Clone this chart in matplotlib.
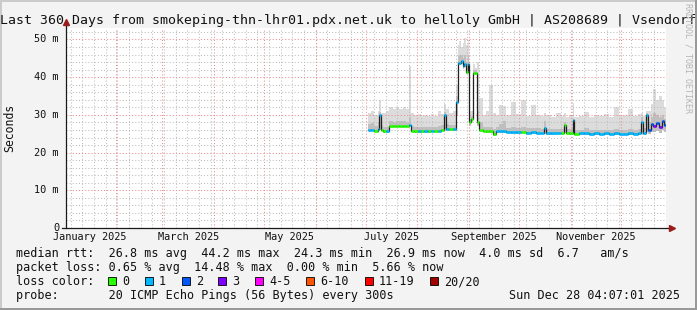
import matplotlib
matplotlib.use('Agg')
import matplotlib.pyplot as plt
from matplotlib.patches import Rectangle
from datetime import datetime, timedelta

# ---------------- data ----------------
title = "Last 360 Days from smokeping-thn-lhr01.pdx.net.uk to helloly GmbH | AS208689 | Vsendorf"
end_time = datetime(2025, 12, 28, 4, 7, 1)
span_days = 360

# sample day (days since start of window), median rtt (ms), lost pings, smoke max, smoke upper-mid, smoke min
days = [181, 183, 185, 187, 188, 189, 190, 192, 194, 196, 198, 200, 202, 204, 206, 207, 209, 211,
        213, 215, 217, 219, 221, 223, 225, 227, 228, 230, 232, 234, 235, 236, 237, 238, 239, 240,
        241, 242, 243, 244, 245.5, 246.5, 248, 250, 252, 254, 256, 258, 260, 262, 264, 267, 270,
        273, 276, 279, 282, 285, 287, 288, 291, 294, 297, 299, 300, 302, 304, 305, 308, 311, 314,
        317, 320, 323, 326, 329, 332, 335, 337, 340, 343, 345, 346, 348, 349, 351, 352, 354, 356,
        357.5, 359]
median = [26.0, 26.0, 25.8, 26.2, 30.0, 26.0, 25.6, 25.6, 27.1, 27.1, 27.1, 27.1, 27.1, 27.1, 27.3,
          25.8, 25.7, 25.7, 25.7, 25.7, 25.7, 25.8, 25.8, 25.8, 26.0, 30.0, 26.2, 26.2, 26.2, 33.5,
          43.8, 43.8, 44.2, 43.0, 43.5, 41.5, 43.5, 28.0, 29.0, 41.1, 41.1, 28.0, 26.0, 25.8, 25.6,
          25.6, 24.9, 25.6, 25.6, 25.6, 25.5, 25.4, 25.4, 25.5, 25.3, 25.4, 25.3, 25.3, 26.5, 25.2,
          25.2, 25.3, 25.3, 27.3, 25.3, 25.2, 28.6, 25.0, 25.1, 25.1, 25.0, 25.1, 25.0, 25.1, 25.0,
          25.1, 25.0, 25.0, 25.1, 25.0, 25.1, 28.2, 25.1, 30.0, 26.0, 27.5, 27.0, 27.8, 26.8, 28.4,
          27.2]
lost = [1, 1, 0, 1, 1, 0, 0, 1, 0, 0, 0, 0, 0, 0, 1, 0, 0, 1, 0, 1, 0, 1, 0, 1, 0, 1, 1, 0, 1, 1,
        1, 1, 1, 1, 1, 0, 1, 0, 0, 0, 0, 0, 0, 0, 0, 0, 0, 1, 1, 1, 1, 1, 1, 0, 1, 1, 1, 1, 1, 1,
        1, 1, 0, 0, 0, 0, 1, 0, 1, 1, 1, 1, 1, 1, 1, 1, 1, 1, 1, 1, 1, 1, 1, 1, 2, 2, 3, 2, 3, 2,
        2]
smoke_hi = [30.5, 31.0, 30.0, 31.0, 34.0, 30.5, 30.5, 31.0, 32.0, 31.5, 32.0, 31.5, 32.0, 31.5, 43.0,
            30.5, 30.0, 30.2, 29.8, 30.0, 29.8, 30.2, 29.8, 31.0, 30.2, 33.0, 31.5, 30.5, 31.0, 38.0,
            48.5, 49.5, 48.0, 49.0, 50.4, 48.5, 49.8, 31.0, 31.0, 43.5, 42.5, 44.0, 34.5, 30.0, 31.0,
            38.0, 30.5, 30.0, 32.5, 32.4, 30.0, 33.5, 30.2, 34.0, 29.8, 32.5, 30.0, 29.6, 30.5, 30.0,
            29.5, 30.5, 29.8, 30.5, 29.5, 30.0, 33.2, 29.5, 29.8, 30.8, 29.5, 30.0, 29.6, 30.2, 29.5,
            32.0, 29.8, 30.0, 31.5, 29.8, 30.2, 30.5, 29.8, 31.0, 31.0, 33.0, 37.0, 34.0, 35.0, 34.0,
            32.0]
smoke_mid = [27.5, 27.8, 27.0, 28.0, 30.8, 27.2, 26.8, 26.8, 28.3, 28.2, 28.4, 28.3, 28.5, 28.2, 29.5,
             27.0, 26.8, 26.8, 26.7, 26.8, 26.7, 26.9, 26.8, 27.0, 27.2, 30.8, 27.5, 27.3, 27.4, 35.0,
             45.5, 45.8, 45.8, 45.0, 46.0, 44.0, 46.0, 29.0, 29.8, 41.8, 41.8, 31.0, 28.0, 26.8, 26.8,
             26.8, 26.2, 26.7, 27.5, 28.5, 26.6, 26.8, 26.5, 26.8, 26.4, 26.5, 26.4, 26.3, 28.5, 26.3,
             26.2, 26.3, 26.3, 28.0, 26.2, 26.2, 29.0, 26.0, 26.1, 26.4, 26.0, 26.1, 26.0, 26.1, 26.0,
             26.3, 26.0, 26.1, 26.3, 26.0, 26.2, 29.5, 26.5, 30.5, 28.0, 29.5, 30.5, 30.0, 29.5, 30.0,
             29.0]
smoke_lo = [25.6, 25.6, 25.4, 25.8, 26.0, 25.6, 25.2, 25.2, 26.7, 26.7, 26.7, 26.7, 26.7, 26.7, 26.8,
            25.4, 25.3, 25.3, 25.3, 25.3, 25.3, 25.4, 25.4, 25.4, 25.6, 26.0, 25.8, 25.8, 25.8, 30.0,
            43.0, 43.2, 43.5, 42.2, 42.8, 40.8, 42.5, 27.0, 28.0, 40.5, 40.5, 27.0, 25.6, 25.4, 25.2,
            25.2, 24.5, 25.2, 25.2, 25.2, 25.1, 25.0, 25.0, 25.1, 24.9, 25.0, 24.9, 24.9, 25.0, 24.8,
            24.8, 24.9, 24.9, 25.2, 24.9, 24.8, 25.3, 24.6, 24.7, 24.7, 24.6, 24.7, 24.6, 24.7, 24.6,
            24.7, 24.6, 24.6, 24.7, 24.6, 24.7, 25.0, 24.7, 25.5, 25.0, 25.5, 25.5, 25.8, 25.2, 26.0,
            25.5]

loss_labels = ['0', '1', '2', '3', '4-5', '6-10', '11-19', '20/20']
loss_upper = [0, 1, 2, 3, 5, 10, 19, 20]
loss_colors = ['#26ff00', '#00b8ff', '#0059ff', '#7e00ff', '#ff00ff', '#ff5500', '#ff0000', '#a00000']

yticks = [0, 10, 20, 30, 40, 50]
ytick_labels = ['0', '10 m', '20 m', '30 m', '40 m', '50 m']
month_labels = ['January 2025', 'March 2025', 'May 2025', 'July 2025', 'September 2025', 'November 2025']
month_label_starts = [(2025, 1), (2025, 3), (2025, 5), (2025, 7), (2025, 9), (2025, 11)]

rtt_stats = ['26.8 ms avg', '44.2 ms max', '24.3 ms min', '26.9 ms now', '4.0 ms sd', '6.7   am/s']
loss_stats = ['0.65 % avg', '14.48 % max', '0.00 % min', '5.66 % now']
probe_text = '20 ICMP Echo Pings (56 Bytes) every 300s'
stamp_text = 'Sun Dec 28 04:07:01 2025'

# ---------------- layout ----------------
W, H = 697, 310
MONO = 'DejaVu Sans Mono'
fig = plt.figure(figsize=(W / 100, H / 100), dpi=100, facecolor='#f3f3f3')


def fx(x):
    return x / W


def fy(y):
    return 1 - y / H


PL, PR, PT, PB = 66, 666, 28, 228
ax = fig.add_axes([fx(PL), fy(PB), (PR - PL) / W, (PB - PT) / H])
ax.set_facecolor('white')
ax.set_xlim(0, span_days)
ax.set_ylim(0, 53.05)
for s in ax.spines.values():
    s.set_visible(False)
ax.set_xticks([])
ax.set_yticks([])

start_time = end_time - timedelta(days=span_days)


def tday(dt):
    return (dt - start_time).total_seconds() / 86400.0


# grid
dot = (0, (1, 2))
minor_c = '#bdbdbd'
major_c = '#ee8c8c'
for v in range(2, 53, 2):
    if v % 10:
        ax.axhline(v, color=minor_c, lw=0.75, ls=dot, zorder=2)
sunday = datetime(2025, 1, 5)
while sunday < end_time:
    ax.axvline(tday(sunday), color=minor_c, lw=0.75, ls=dot, zorder=2)
    sunday += timedelta(days=7)
for v in yticks[1:]:
    ax.axhline(v, color=major_c, lw=0.75, ls=dot, zorder=2.1)
month_starts = [datetime(2025, m, 1) for m in range(2, 13)]
for ms in month_starts:
    ax.axvline(tday(ms), color=major_c, lw=0.75, ls=dot, zorder=2.1)

# smoke
edges = days + [span_days]
ax.stairs(smoke_hi, edges, baseline=smoke_lo, fill=True, color='#dcdcdc', lw=0, zorder=1)
ax.stairs(smoke_mid, edges, baseline=smoke_lo, fill=True, color='#bfbfbf', lw=0, zorder=1.1)


def loss_bin(n):
    for i, u in enumerate(loss_upper):
        if n <= u:
            return i
    return len(loss_upper) - 1


# median
ax.stairs(median, edges, baseline=None, color='#202020', lw=0.9, zorder=3)
seg_colors = [loss_colors[loss_bin(n)] for n in lost]
ax.hlines(median, edges[:-1], edges[1:], colors=seg_colors, lw=1.9, zorder=3.5)

# axes lines and arrows
axis_c = '#1a1a1a'
arrow_c = '#9b1c1c'
ax.plot([0, 0], [0, 1.025], transform=ax.transAxes, color=axis_c, lw=0.9, clip_on=False, zorder=5)
ax.plot([-0.007, 1.005], [0, 0], transform=ax.transAxes, color=axis_c, lw=0.9, clip_on=False, zorder=5)
ax.plot([0], [1.03], marker='^', ms=4.5, color=arrow_c, transform=ax.transAxes, clip_on=False, zorder=6)
ax.plot([1.01], [0], marker='>', ms=4.5, color=arrow_c, transform=ax.transAxes, clip_on=False, zorder=6)

# tick labels
for v, lab in zip(yticks, ytick_labels):
    ax.text(-(PL - 59) / (PR - PL), v, lab, transform=ax.get_yaxis_transform(), ha='right', va='center',
            fontsize=7.4, family=MONO, color='#111111')
for (yr, mo), lab in zip(month_label_starts, month_labels):
    a = datetime(yr, mo, 1)
    b = datetime(yr + (mo == 12), mo % 12 + 1, 1)
    mid = (tday(a) + tday(b)) / 2
    ax.text(mid, -(240.5 - PB) / (PB - PT), lab, transform=ax.get_xaxis_transform(), ha='center',
            va='baseline', fontsize=7.4, family=MONO, color='#111111', clip_on=False)

fig.text(fx(10), fy(128), 'Seconds', rotation=90, ha='center', va='center', fontsize=8.3, family=MONO,
         color='#111111')

# title
fig.text(0.5, fy(24), title, ha='center', va='baseline', fontsize=9.5, family=MONO, color='#111111')

# vertical credit
fig.text(fx(688), fy(58), 'RRDTOOL / TOBI OETIKER', rotation=270, ha='center', va='center', fontsize=6.0,
         family=MONO, color='#b5b5b5')

# legend rows
LX = 16
fs = 8.5
line1 = 'median rtt:  ' + '  '.join(rtt_stats)
line2 = 'packet loss: ' + '  '.join(loss_stats)
fig.text(fx(LX), fy(257.3), line1, va='baseline', fontsize=fs, family=MONO, color='#111111')
fig.text(fx(LX), fy(271.5), line2, va='baseline', fontsize=fs, family=MONO, color='#111111')
fig.text(fx(LX), fy(285.2), 'loss color:', va='baseline', fontsize=fs, family=MONO, color='#111111')
fig.text(fx(LX), fy(299.3), 'probe:       ' + probe_text, va='baseline', fontsize=fs, family=MONO,
         color='#111111')
fig.text(fx(680), fy(299.3), stamp_text, ha='right', va='baseline', fontsize=fs, family=MONO, color='#111111')

cw = 7.12
bx = 108.0
for lab, col in zip(loss_labels, loss_colors):
    fig.patches.append(Rectangle((fx(bx), fy(284.5)), 8 / W, 8 / H, transform=fig.transFigure,
                                 facecolor=col, edgecolor='#000000', lw=0.6))
    fig.text(fx(bx + 14), fy(285.2), lab, va='baseline', fontsize=fs, family=MONO, color='#111111')
    bx += 14 + len(lab) * cw + 15.7

# frame
fig.patches.append(Rectangle((0, 1 - 2 / H), 1, 2 / H, transform=fig.transFigure, color='#cbcbcb', lw=0))
fig.patches.append(Rectangle((0, 0), 2 / W, 1, transform=fig.transFigure, color='#cbcbcb', lw=0))
fig.patches.append(Rectangle((0, 0), 1, 2 / H, transform=fig.transFigure, color='#999999', lw=0))
fig.patches.append(Rectangle((1 - 2 / W, 0), 2 / W, 1, transform=fig.transFigure, color='#999999', lw=0))

fig.savefig('out.png', dpi=100, facecolor=fig.get_facecolor())
